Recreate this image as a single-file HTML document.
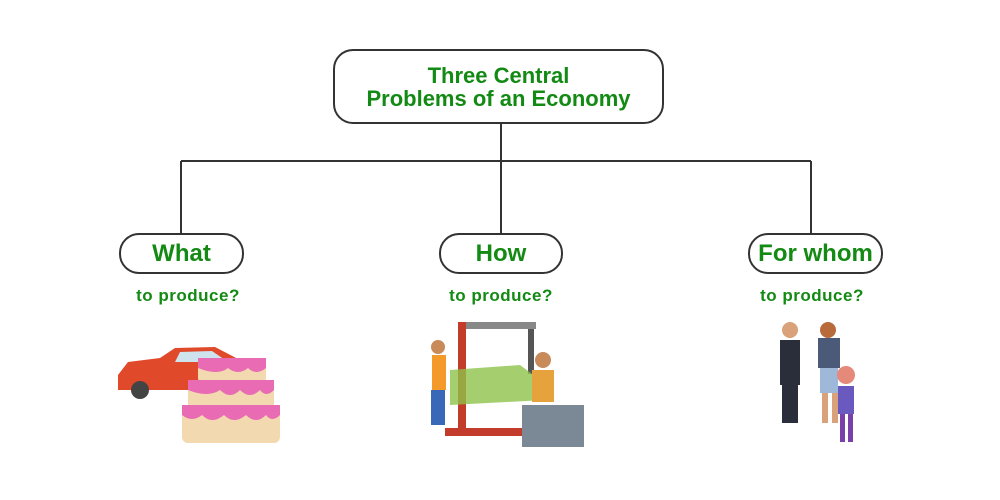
<!DOCTYPE html>
<html><head><style>
body{margin:0;width:1000px;height:500px;background:#fff;position:relative;overflow:hidden;font-family:"Liberation Sans",sans-serif}
.b{position:absolute;border:2px solid #333;background:#fff;box-sizing:border-box;display:flex;align-items:center;justify-content:center;color:#138a13;font-weight:bold;text-align:center}
.t{position:absolute;color:#138a13;font-weight:bold;font-size:17px;letter-spacing:.5px;text-align:center}
</style></head><body>
<svg width="1000" height="500" style="position:absolute;left:0;top:0">
<g stroke="#333" stroke-width="2" fill="none">
<path d="M501 123V161M181 161H811M181 161V234M501 161V234M811 161V234"/>
</g>
<path d="M118 375 L128 362 L160 358 L175 348 L215 347 L240 360 L250 372 L250 390 L118 390Z" fill="#e0492a"/>
<path d="M180 352 L212 351 L228 362 L175 362Z" fill="#cfe3ef"/>
<circle cx="140" cy="390" r="9" fill="#444"/><circle cx="228" cy="390" r="9" fill="#444"/>
<rect x="182" y="405" width="98" height="38" rx="6" fill="#f2d9b0"/>
<rect x="188" y="380" width="86" height="30" rx="6" fill="#f2d9b0"/>
<rect x="198" y="358" width="68" height="26" rx="6" fill="#f2d9b0"/>
<path d="M182 405 h98 v10 q-8 8 -14 0 q-10 10 -20 0 q-12 10 -22 0 q-12 10 -22 0 q-10 8 -20 0z" fill="#e86bb4"/>
<path d="M188 380 h86 v10 q-8 8 -14 0 q-10 10 -20 0 q-10 10 -20 0 q-12 8 -32 0z" fill="#e86bb4"/>
<path d="M198 358 h68 v10 q-10 8 -18 0 q-10 8 -20 0 q-10 8 -30 0z" fill="#e86bb4"/>
<rect x="458" y="322" width="78" height="7" fill="#888"/>
<rect x="458" y="322" width="8" height="110" fill="#c23b2b"/>
<rect x="528" y="329" width="6" height="45" fill="#555"/>
<path d="M450 370 L520 365 L540 380 L545 400 L450 405Z" fill="#8fc34a" opacity=".8"/>
<rect x="445" y="428" width="100" height="8" fill="#c23b2b"/>
<rect x="432" y="355" width="14" height="35" fill="#f39a2b"/>
<circle cx="438" cy="347" r="7" fill="#c98a5a"/>
<rect x="431" y="390" width="14" height="35" fill="#3a68b8"/>
<rect x="522" y="405" width="62" height="42" fill="#7b8895"/>
<rect x="532" y="370" width="22" height="32" fill="#e6a23c"/>
<circle cx="543" cy="360" r="8" fill="#c98a5a"/>
<rect x="780" y="340" width="20" height="45" fill="#2a2e3a"/>
<rect x="782" y="385" width="16" height="38" fill="#2a2e3a"/>
<circle cx="790" cy="330" r="8" fill="#d9a27a"/>
<rect x="818" y="338" width="22" height="30" fill="#4a5a78"/>
<rect x="820" y="368" width="18" height="25" fill="#9db8d8"/>
<rect x="822" y="393" width="6" height="30" fill="#d9a27a"/><rect x="832" y="393" width="6" height="30" fill="#d9a27a"/>
<circle cx="828" cy="330" r="8" fill="#b86a3a"/>
<circle cx="846" cy="375" r="9" fill="#e58a7a"/>
<rect x="838" y="386" width="16" height="28" fill="#6a5ac0"/>
<rect x="840" y="414" width="5" height="28" fill="#7a3fa8"/><rect x="848" y="414" width="5" height="28" fill="#7a3fa8"/>
</svg>
<div class="b" style="left:333px;top:49px;width:331px;height:75px;border-radius:20px;font-size:22px;line-height:23px">Three Central<br>Problems of an Economy</div>
<div class="b" style="left:119px;top:233px;width:125px;height:41px;border-radius:20px;font-size:24px">What</div>
<div class="b" style="left:439px;top:233px;width:124px;height:41px;border-radius:20px;font-size:24px">How</div>
<div class="b" style="left:748px;top:233px;width:135px;height:41px;border-radius:20px;font-size:24px">For whom</div>
<div class="t" style="left:108px;top:286px;width:160px">to produce?</div>
<div class="t" style="left:421px;top:286px;width:160px">to produce?</div>
<div class="t" style="left:732px;top:286px;width:160px">to produce?</div>
</body></html>
